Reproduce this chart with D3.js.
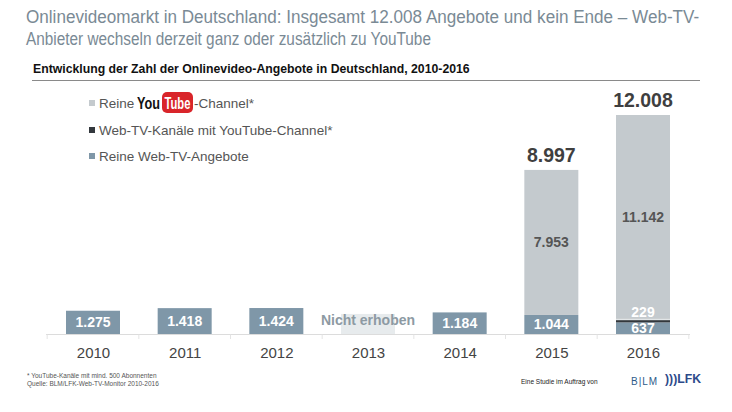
<!DOCTYPE html>
<html>
<head>
<meta charset="utf-8">
<script src="https://cdn.jsdelivr.net/npm/d3@7"></script>
<style>
  body { margin: 0; background: #fff; }
  svg { font-family: "Liberation Sans", Arial, sans-serif; }
</style>
</head>
<body>
<svg id="chart" width="732" height="412"></svg>
<script>
// data
var years = ["2010", "2011", "2012", "2013", "2014", "2015", "2016"];
var reineWebTV = [1275, 1418, 1424, null, 1184, 1044, 637];
var webTVmitYouTube = [0, 0, 0, null, 0, 0, 229];
var reineYouTube = [0, 0, 0, null, 0, 7953, 11142];
var totals = [null, null, null, null, null, 8997, 12008];
var nichtErhoben = 1100; // placeholder height for 2013 (no survey)

var width = 732, height = 412;
var colors = { web: "#7f97a8", mix: "#33383d", yt: "#c4cace" };

var svg = d3.select("#chart");

// squeeze a text horizontally so it spans `w` pixels from x
function squeeze(sel, x, y, w) {
  var len = sel.node().getComputedTextLength();
  sel.attr("transform", `translate(${x}, ${y}) scale(${w / len}, 1)`);
  return sel;
}

// title
squeeze(svg.append("text")
    .attr("fill", "#7a8a95")
    .style("font-size", "18.5px")
    .text("Onlinevideomarkt in Deutschland: Insgesamt 12.008 Angebote und kein Ende \u2013 Web-TV-"),
  26, 23, 674);
squeeze(svg.append("text")
    .attr("fill", "#7a8a95")
    .style("font-size", "18.5px")
    .text("Anbieter wechseln derzeit ganz oder zusätzlich zu YouTube"),
  26, 45, 405);

squeeze(svg.append("text")
    .attr("fill", "#111")
    .style("font-weight", "bold")
    .style("font-size", "12.5px")
    .text("Entwicklung der Zahl der Onlinevideo-Angebote in Deutschland, 2010-2016"),
  33, 73, 437);
svg.append("line")
    .attr("x1", 32).attr("x2", 700)
    .attr("y1", 80.5).attr("y2", 80.5)
    .attr("stroke", "#8a8a8a").attr("stroke-width", 1.2);

// scales
var xScale = d3.scalePoint()
    .domain(years)
    .range([93, 643]);
var barWidth = 54;

var yScale = d3.scaleLinear()
    .domain([0, 12008])
    .range([334, 115]);

// axis
var axis = svg.append("g")
    .attr("transform", "translate(0, 334)")
    .call(d3.axisBottom(xScale).tickSize(0).tickPadding(13));
axis.select(".domain")
    .attr("d", "M46,0.5H690")
    .attr("stroke", "#dcdcdc");
axis.selectAll(".tick text")
    .attr("fill", "#444")
    .style("font-size", "15px")
    .style("font-family", "'Liberation Sans', Arial");

// faint ticks between categories
var step = xScale.step();
axis.selectAll(".sep")
  .data(d3.range(years.length + 1))
  .enter()
  .append("line")
    .attr("x1", i => xScale(years[0]) - step / 2 + i * step)
    .attr("x2", i => xScale(years[0]) - step / 2 + i * step)
    .attr("y1", 0.5).attr("y2", 5)
    .attr("stroke", "#e4e4e4");

// stacked data
var rows = years.map((y, i) => ({
  year: y,
  web: reineWebTV[i],
  mix: webTVmitYouTube[i],
  yt: reineYouTube[i],
  total: totals[i]
})).filter(d => d.web !== null);

var stack = d3.stack().keys(["web", "mix", "yt"])(rows);

var bars = svg.append("g");
bars.selectAll("g")
  .data(stack)
  .enter()
  .append("g")
    .attr("fill", d => colors[d.key])
  .selectAll("rect")
  .data(d => d.filter(s => s[1] > s[0]))
  .enter()
  .append("rect")
    .attr("x", d => xScale(d.data.year) - barWidth / 2)
    .attr("width", barWidth)
    .attr("y", d => yScale(d[1]))
    .attr("height", d => yScale(d[0]) - yScale(d[1]));

// light gap above the dark segment
var mixLayer = stack.find(s => s.key === "mix").filter(s => s[1] > s[0]);
bars.selectAll(".gap")
  .data(mixLayer)
  .enter()
  .append("rect")
    .attr("x", d => xScale(d.data.year) - barWidth / 2)
    .attr("width", barWidth)
    .attr("y", d => yScale(d[1]))
    .attr("height", 2)
    .attr("fill", "#e2e6e8");

// 2013 placeholder
svg.append("rect")
    .attr("x", xScale("2013") - barWidth / 2)
    .attr("width", barWidth)
    .attr("y", yScale(nichtErhoben))
    .attr("height", yScale(0) - yScale(nichtErhoben))
    .attr("fill", "#e7ebed");
svg.append("text")
    .attr("x", xScale("2013"))
    .attr("y", yScale(nichtErhoben) + 11)
    .attr("text-anchor", "middle")
    .attr("fill", "#8d9aa3")
    .style("font-weight", "bold")
    .style("font-size", "14px")
    .text("Nicht erhoben");

// value labels
var labels = svg.append("g")
    .style("font-weight", "bold")
    .attr("text-anchor", "middle");

labels.selectAll(".web")
  .data(rows)
  .enter()
  .append("text")
    .attr("x", d => xScale(d.year))
    .attr("y", d => d.year === "2016" ? yScale(0) - 1 : yScale(d.web / 2) + 5)
    .attr("fill", "#fff")
    .style("font-size", "14px")
    .text(d => d3.format(",")(d.web).replace(",", "."));

labels.selectAll(".mix")
  .data(rows.filter(d => d.mix > 0))
  .enter()
  .append("text")
    .attr("x", d => xScale(d.year))
    .attr("y", d => yScale(d.web + d.mix) - 1)
    .attr("fill", "#fff")
    .style("font-size", "14px")
    .text(d => d.mix);

labels.selectAll(".yt")
  .data(rows.filter(d => d.yt > 0))
  .enter()
  .append("text")
    .attr("x", d => xScale(d.year))
    .attr("y", d => yScale(d.web + d.mix + d.yt / 2) + 5)
    .attr("fill", "#555")
    .style("font-size", "14px")
    .text(d => d3.format(",")(d.yt).replace(",", "."));

labels.selectAll(".total")
  .data(rows.filter(d => d.total))
  .enter()
  .append("text")
    .attr("x", d => xScale(d.year))
    .attr("y", d => yScale(d.total) - 8)
    .attr("fill", "#3f3f3f")
    .style("font-size", "19.5px")
    .text(d => d3.format(",")(d.total).replace(",", "."));

// legend
var legend = svg.append("g")
    .style("font-size", "13.5px")
    .attr("fill", "#555");

var legendItems = [
  { key: "yt", y: 108 },
  { key: "mix", y: 135 },
  { key: "web", y: 161 }
];
legend.selectAll("rect")
  .data(legendItems)
  .enter()
  .append("rect")
    .attr("x", 89).attr("y", d => d.y - 8)
    .attr("width", 6).attr("height", 6)
    .attr("fill", d => colors[d.key]);

legend.append("text").attr("x", 99).attr("y", 108).text("Reine");
squeeze(legend.append("text")
    .attr("fill", "#111")
    .style("font-weight", "bold")
    .style("font-size", "17px")
    .text("You"),
  137, 109, 23);
legend.append("rect")
    .attr("x", 162).attr("y", 92)
    .attr("width", 31).attr("height", 21)
    .attr("rx", 5)
    .attr("fill", "#d9252a");
squeeze(legend.append("text")
    .attr("fill", "#fff")
    .style("font-weight", "bold")
    .style("font-size", "17px")
    .text("Tube"),
  164.5, 109, 26);
legend.append("text").attr("x", 194).attr("y", 108).text("-Channel*");
legend.append("text").attr("x", 99).attr("y", 135).text("Web-TV-Kanäle mit YouTube-Channel*");
legend.append("text").attr("x", 99).attr("y", 161).text("Reine Web-TV-Angebote");

// footer
var foot = svg.append("g")
    .style("font-size", "6.5px")
    .attr("fill", "#555");
foot.append("text").attr("x", 27).attr("y", 378).text("* YouTube-Kanäle mit mind. 500 Abonnenten");
foot.append("text").attr("x", 27).attr("y", 386).text("Quelle: BLM/LFK-Web-TV-Monitor 2010-2016");
foot.append("text").attr("x", 521).attr("y", 384).attr("fill", "#222").text("Eine Studie im Auftrag von");

svg.append("text")
    .attr("x", 631).attr("y", 385)
    .attr("fill", "#2d5b8a")
    .style("font-size", "10px")
    .style("letter-spacing", "1px")
    .text("B|LM");
squeeze(svg.append("text")
    .attr("fill", "#2d4a8a")
    .style("font-weight", "bold")
    .style("font-size", "13px")
    .text(")))LFK"),
  665, 383, 36);
</script>
</body>
</html>
